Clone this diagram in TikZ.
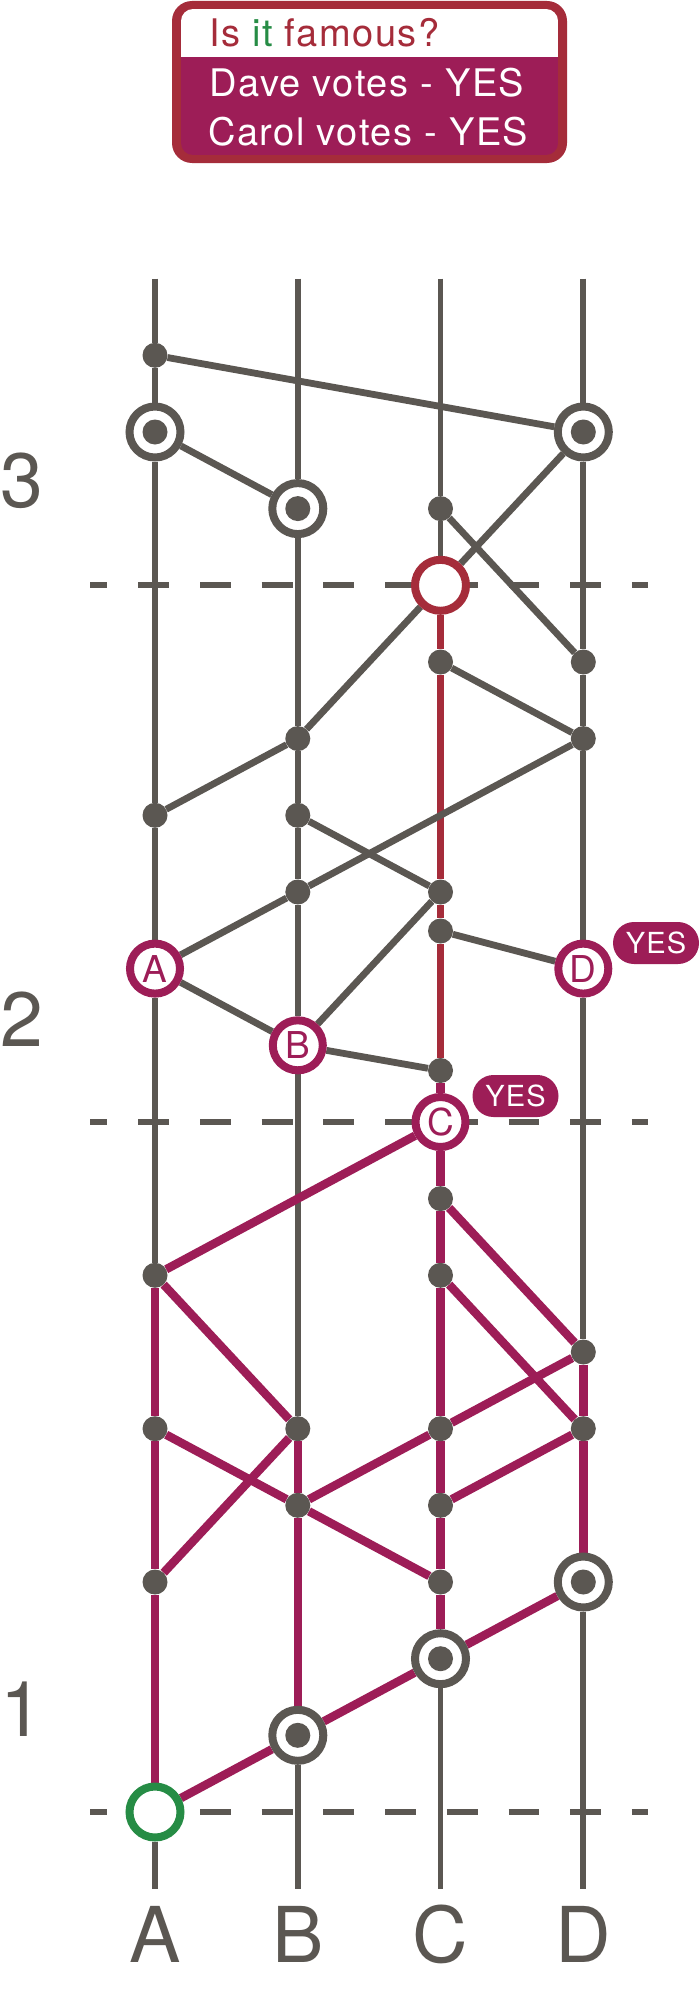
\documentclass[tikz,border=0pt]{standalone}
\usepackage{fontspec}
\setmainfont{TeX Gyre Heros}
\newfontfamily\headfont[LetterSpace=4]{TeX Gyre Heros}
\definecolor{evgray}{RGB}{91,87,82}
\definecolor{vmag}{RGB}{157,29,87}
\definecolor{fred}{RGB}{165,44,58}
\definecolor{wgreen}{RGB}{38,140,69}
\pgfdeclarelayer{back}
\pgfsetlayers{back,main}
\begin{document}
\begin{tikzpicture}[x=1pt,y=-1pt,
  ev/.style={circle,fill=evgray,inner sep=0pt,minimum size=25pt},
  wit/.style={circle,draw=evgray,line width=8pt,fill=white,inner sep=0pt,minimum size=51pt,
     path picture={\fill[evgray] (path picture bounding box.center) circle (12.5pt);}},
  lbl/.style={circle,draw=vmag,line width=8pt,fill=white,inner sep=0pt,minimum size=50pt,
     text=vmag,font=\fontsize{37}{37}\selectfont},
  fam/.style={circle,draw=#1,line width=8pt,fill=white,inner sep=0pt,minimum size=51pt},
  yestag/.style={fill=vmag,text=white,rounded corners=21pt,minimum width=86pt,minimum height=42pt,
     inner sep=0pt,font=\headfont\fontsize{29}{29}\selectfont},
  gline/.style={evgray,line width=5.8pt},
  gedge/.style={evgray,line width=6.8pt},
  medge/.style={vmag,line width=8.5pt},
  redge/.style={fred,line width=7.3pt},
  dline/.style={evgray,line width=6.3pt,dash pattern=on 30.85pt off 30.85pt,dash phase=13.4pt},
  big/.style={inner sep=0pt,text=evgray,font=\fontsize{77}{77}\selectfont},
  head/.style={anchor=base west,inner sep=0pt,font=\headfont\fontsize{38}{38}\selectfont}]
\useasboundingbox (0,0) rectangle (700,1999);
% ---------- header box
\fill[fred, rounded corners=20pt] (172,1) rectangle (567,163);
\begin{scope}
\clip[rounded corners=12pt] (181,9) rectangle (558,155);
\fill[white] (181,9) rectangle (558,57.3);
\fill[vmag] (181,57.3) rectangle (558,155);
\end{scope}
\node[head] (q) at (209,46.7) {\textcolor{fred}{Is} \textcolor{wgreen}{it} \textcolor{fred}{famous?}};
\node[head,text=white] (dv) at (209,96.7) {Dave votes - YES};
\node[head,text=white] (cv) at (208,146) {Carol votes - YES};
% ---------- labels
\node[big,anchor=base west] (n3) at (0,507.5) {3};
\node[big,anchor=base west] (n2) at (0,1046) {2};
\node[big,anchor=base west] (n1) at (0,1736) {1};
\node[big,anchor=base] (lA) at (155,1962) {A};
\node[big,anchor=base] (lB) at (297.8,1962) {B};
\node[big,anchor=base] (lC) at (440.5,1962) {C};
\node[big,anchor=base] (lD) at (583.3,1962) {D};
% ---------- coordinates
\coordinate (topA) at (155,278.6);
\coordinate (topB) at (297.8,278.6);
\coordinate (topC) at (440.5,278.6);
\coordinate (topD) at (583.3,278.6);
\coordinate (botA) at (155,1888.7);
\coordinate (botB) at (297.8,1888.7);
\coordinate (botC) at (440.5,1888.7);
\coordinate (botD) at (583.3,1888.7);
\coordinate (d3l) at (90,585.3);
\coordinate (d3r) at (648,585.3);
\coordinate (d2l) at (90,1122);
\coordinate (d2r) at (648,1122);
\coordinate (d1l) at (90,1812);
\coordinate (d1r) at (648,1812);
% ---------- events
\node[ev] (A19) at (155,355.3) {};
\node[wit] (A18) at (155,432) {};
\node[wit] (D18) at (583.3,432) {};
\node[wit] (B17) at (297.8,508.6) {};
\node[ev] (C17) at (440.5,508.6) {};
\node[fam=fred] (C16) at (440.5,585.3) {};
\node[ev] (C15) at (440.5,662) {};
\node[ev] (D15) at (583.3,662) {};
\node[ev] (B14) at (297.8,738.6) {};
\node[ev] (D14) at (583.3,738.6) {};
\node[ev] (A13) at (155,815.3) {};
\node[ev] (B13) at (297.8,815.3) {};
\node[ev] (B12) at (297.8,892) {};
\node[ev] (C12) at (440.5,892) {};
\node[ev] (C11) at (440.5,931) {};
\node[lbl] (A11) at (155,968.6) {A};
\node[lbl] (D11) at (583.3,968.6) {D};
\node[lbl] (B10) at (297.8,1045.3) {B};
\node[ev] (C10) at (440.5,1070.5) {};
\node[lbl] (C9) at (440.5,1122) {C};
\node[ev] (C8) at (440.5,1198.6) {};
\node[ev] (A7) at (155,1275.3) {};
\node[ev] (C7) at (440.5,1275.3) {};
\node[ev] (D6) at (583.3,1352) {};
\node[ev] (A5) at (155,1428.7) {};
\node[ev] (B5) at (297.8,1428.7) {};
\node[ev] (C5) at (440.5,1428.7) {};
\node[ev] (D5) at (583.3,1428.7) {};
\node[ev] (B4) at (297.8,1505.3) {};
\node[ev] (C4) at (440.5,1505.3) {};
\node[ev] (A3) at (155,1582) {};
\node[ev] (C3) at (440.5,1582) {};
\node[wit] (D3) at (583.3,1582) {};
\node[wit] (C2) at (440.5,1658.7) {};
\node[wit] (B1) at (297.8,1735.3) {};
\node[fam=wgreen] (A0) at (155,1812) {};
\node[yestag] (yD) at (656,943) {YES};
\node[yestag] (yC) at (515.5,1096) {YES};
% ---------- connectors
\begin{pgfonlayer}{back}
\fill[white] (0,0) rectangle (700,1999);
\draw[dline] (d3l) -- (d3r);
\draw[dline] (d2l) -- (d2r);
\draw[dline] (d1l) -- (d1r);
% verticals
\draw[gline] (topA) -- (A19); \draw[gline] (A19) -- (A18); \draw[gline] (A18) -- (A13);
\draw[gline] (A13) -- (A11); \draw[gline] (A11) -- (A7);
\draw[medge] (A7) -- (A5); \draw[medge] (A5) -- (A3); \draw[medge] (A3) -- (A0);
\draw[gline] (A0) -- (botA);
\draw[gline] (topB) -- (B17); \draw[gline] (B17) -- (B14); \draw[gline] (B14) -- (B13);
\draw[gline] (B13) -- (B12); \draw[gline] (B12) -- (B10); \draw[gline] (B10) -- (B5);
\draw[medge] (B5) -- (B4); \draw[medge] (B4) -- (B1);
\draw[gline] (B1) -- (botB);
\draw[gline] (topC) -- (C17); \draw[gline] (C17) -- (C16);
\draw[redge] (C16) -- (C15); \draw[redge] (C15) -- (C12); \draw[redge] (C12) -- (C11);
\draw[redge] (C11) -- (C10);
\draw[medge] (C10) -- (C9); \draw[medge] (C9) -- (C8); \draw[medge] (C8) -- (C7);
\draw[medge] (C7) -- (C5); \draw[medge] (C5) -- (C4); \draw[medge] (C4) -- (C3);
\draw[medge] (C3) -- (C2);
\draw[gline] (C2) -- (botC);
\draw[gline] (topD) -- (D18); \draw[gline] (D18) -- (D15); \draw[gline] (D15) -- (D14);
\draw[gline] (D14) -- (D11); \draw[gline] (D11) -- (D6);
\draw[medge] (D6) -- (D5); \draw[medge] (D5) -- (D3);
\draw[gline] (D3) -- (botD);
% gray diagonals
\draw[gedge] (A19) -- (D18);
\draw[gedge] (A18) -- (B17);
\draw[gedge] (D18) -- (C16);
\draw[gedge] (C16) -- (B14);
\draw[gedge] (C17) -- (D15);
\draw[gedge] (C15) -- (D14);
\draw[gedge] (D14) -- (B12);
\draw[gedge] (B12) -- (A11);
\draw[gedge] (B14) -- (A13);
\draw[gedge] (B13) -- (C12);
\draw[gedge] (C12) -- (B10);
\draw[gedge] (C11) -- (D11);
\draw[gedge] (A11) -- (B10);
\draw[gedge] (B10) -- (C10);
% magenta diagonals
\draw[medge] (A0) -- (B1);
\draw[medge] (B1) -- (C2);
\draw[medge] (C2) -- (D3);
\draw[medge] (A3) -- (B5);
\draw[medge] (A5) -- (B4);
\draw[medge] (B4) -- (C3);
\draw[medge] (A7) -- (B5);
\draw[medge] (B4) -- (C5);
\draw[medge] (C5) -- (D6);
\draw[medge] (C4) -- (D5);
\draw[medge] (C7) -- (D5);
\draw[medge] (C8) -- (D6);
\draw[medge] (C9) -- (A7);
\end{pgfonlayer}
\end{tikzpicture}
\end{document}
